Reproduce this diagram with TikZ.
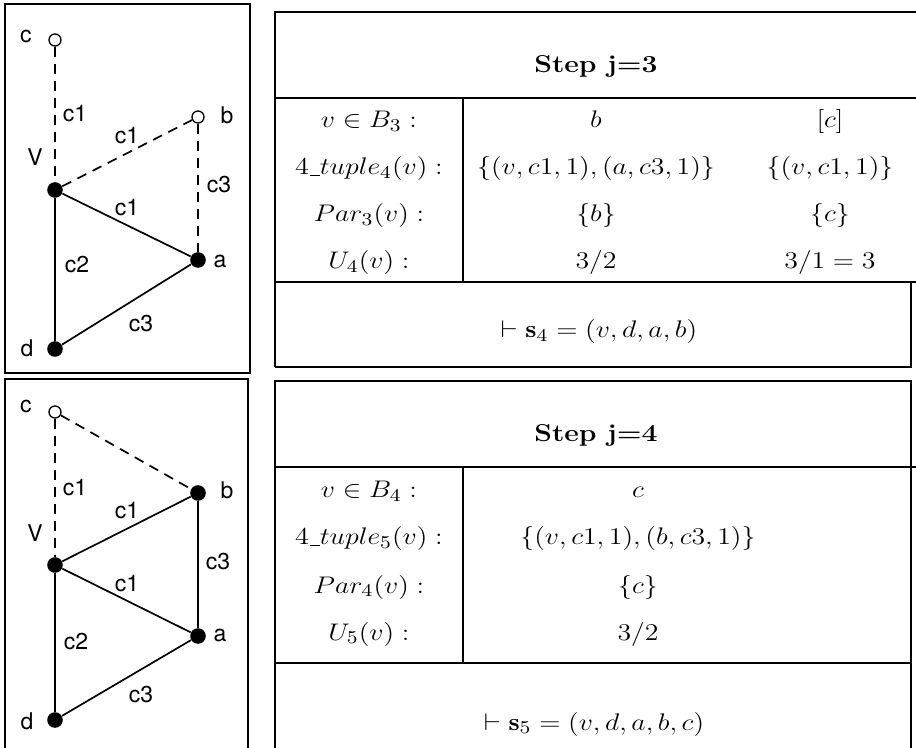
\documentclass[tikz,border=0pt]{standalone}
\usepackage{amsmath,amssymb}
\usepackage{fontspec}
\usepackage{tikz}
\usetikzlibrary{positioning}
\newfontfamily\graphfont{TeX Gyre Heros}
\newcommand{\tup}{\text{4\kern0.04em\rule[-0.06em]{0.36em}{0.05em}\kern-0.02em}tuple}

\tikzset{
  fullvtx/.style={circle, fill=black, inner sep=0pt, minimum size=7.8pt},
  openvtx/.style={circle, draw=black, fill=white, line width=0.65pt, inner sep=0pt, minimum size=6pt},
  glbl/.style={font=\graphfont\fontsize{11.5}{13}\selectfont, inner sep=0pt},
  conn/.style={line width=0.85pt},
  dconn/.style={line width=0.85pt, dash pattern=on 5pt off 3.5pt},
  tabtxt/.style={anchor=base, inner sep=0pt, font=\fontsize{12.2}{14}\selectfont, xscale=1.16, transform shape},
  rule/.style={line width=0.7pt}
}

\begin{document}
\begin{tikzpicture}[x=0.5pt, y=-0.5pt]
\useasboundingbox (0,0) rectangle (916,748);

% graph before step j=3
\draw[rule] (5,4) rectangle (250,373);
\node[openvtx] (uc) at (55,40) {};
\node[openvtx] (ub) at (198,117) {};
\node[fullvtx] (uv) at (55,190) {};
\node[fullvtx] (ua) at (198,260) {};
\node[fullvtx] (ud) at (55,349) {};
\draw[dconn] (uc) -- (uv);
\draw[dconn] (uv) -- (ub);
\draw[dconn] (ub) -- (ua);
\draw[conn] (uv) -- (ua);
\draw[conn] (uv) -- (ud);
\draw[conn] (ud) -- (ua);
\node[glbl] (uclbl) at (26,36) {c};
\node[glbl] (ublbl) at (227,115) {b};
\node[glbl] (uvlbl) at (35,157) {V};
\node[glbl] (ualbl) at (220,261) {a};
\node[glbl] (udlbl) at (27,348) {d};
\node[glbl] (ucv) at (75,114) {c1};
\node[glbl] (uvb) at (127,136) {c1};
\node[glbl] (uba) at (219,185) {c3};
\node[glbl] (uva) at (127,208) {c1};
\node[glbl] (uvd) at (77,265) {c2};
\node[glbl] (uda) at (141,324) {c3};

% graph before step j=4
\draw[rule] (5,748) -- (5,379) -- (248,379) -- (248,748);
\node[openvtx] (lc) at (55,412) {};
\node[fullvtx] (lb) at (198,493) {};
\node[fullvtx] (lv) at (55,565) {};
\node[fullvtx] (la) at (198,636) {};
\node[fullvtx] (ld) at (55,720) {};
\draw[dconn] (lc) -- (lv);
\draw[dconn] (lc) -- (lb);
\draw[conn] (lv) -- (lb);
\draw[conn] (lb) -- (la);
\draw[conn] (lv) -- (la);
\draw[conn] (lv) -- (ld);
\draw[conn] (ld) -- (la);
\node[glbl] (lclbl) at (26,406) {c};
\node[glbl] (lblbl) at (227,490) {b};
\node[glbl] (lvlbl) at (35,533) {V};
\node[glbl] (lalbl) at (220,635) {a};
\node[glbl] (ldlbl) at (27,721) {d};
\node[glbl] (lcv) at (75,488) {c1};
\node[glbl] (lvb) at (127,511) {c1};
\node[glbl] (lba) at (218,562) {c3};
\node[glbl] (lva) at (127,584) {c1};
\node[glbl] (lvd) at (76,642) {c2};
\node[glbl] (lda) at (141,695) {c3};

% table of step j=3
\draw[rule] (275,367) -- (275,12) -- (916,12);
\draw[rule] (275,98) -- (916,98);
\draw[rule] (275,282) -- (916,282);
\draw[rule] (463,98) -- (463,282);
\draw[rule] (275,367) -- (911,367) -- (911,282);
\node[tabtxt] (uhead) at (596,73) {\bfseries Step j=3};
\node[tabtxt] (ur1) at (369,128) {$v\in B_3:$};
\node[tabtxt] (ur2) at (369,175) {$\tup_4(v):$};
\node[tabtxt] (ur3) at (369,222) {$Par_3(v):$};
\node[tabtxt] (ur4) at (369,269) {$U_4(v):$};
\node[tabtxt] (ub1) at (596,128) {$b$};
\node[tabtxt] (ub2) at (596,175) {$\{(v,c1,1),(a,c3,1)\}$};
\node[tabtxt] (ub3) at (596,222) {$\{b\}$};
\node[tabtxt] (ub4) at (596,269) {$3/2$};
\node[tabtxt] (uc1) at (830,128) {$[c]$};
\node[tabtxt] (uc2) at (830,175) {$\{(v,c1,1)\}$};
\node[tabtxt] (uc3) at (830,222) {$\{c\}$};
\node[tabtxt] (uc4) at (830,269) {$3/1=3$};
\node[tabtxt] (ufoot) at (599,338) {$\vdash\mathbf{s}_4=(v,d,a,b)$};

% table of step j=4
\draw[rule] (275,748) -- (275,381) -- (911,381) -- (911,748);
\draw[rule] (275,467) -- (916,467);
\draw[rule] (275,663) -- (911,663);
\draw[rule] (463,467) -- (463,663);
\node[tabtxt] (lhead) at (596,442) {\bfseries Step j=4};
\node[tabtxt] (lr1) at (369,498) {$v\in B_4:$};
\node[tabtxt] (lr2) at (369,545) {$\tup_5(v):$};
\node[tabtxt] (lr3) at (369,593) {$Par_4(v):$};
\node[tabtxt] (lr4) at (369,640) {$U_5(v):$};
\node[tabtxt] (lc1) at (638,498) {$c$};
\node[tabtxt] (lc2) at (638,545) {$\{(v,c1,1),(b,c3,1)\}$};
\node[tabtxt] (lc3) at (638,593) {$\{c\}$};
\node[tabtxt] (lc4) at (638,640) {$3/2$};
\node[tabtxt] (lfoot) at (594,730) {$\vdash\mathbf{s}_5=(v,d,a,b,c)$};
\end{tikzpicture}
\end{document}
